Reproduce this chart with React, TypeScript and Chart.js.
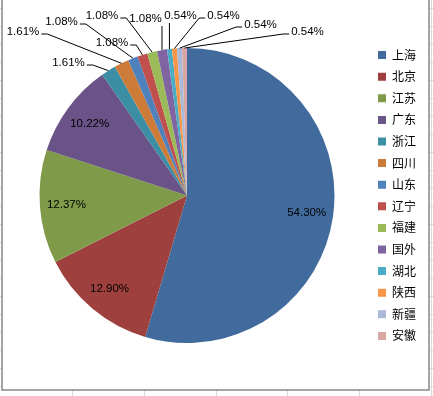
import React, { useEffect, useRef } from 'react';
import { Chart, registerables } from 'chart.js';

Chart.register(...registerables);

// ---- data ----
const categories = ['上海', '北京', '江苏', '广东', '浙江', '四川', '山东', '辽宁', '福建', '国外', '湖北', '陕西', '新疆', '安徽'];
const shares = [54.30, 12.90, 12.37, 10.22, 1.61, 1.61, 1.08, 1.08, 1.08, 1.08, 0.54, 0.54, 0.54, 0.54];

// ---- styles ----
const sliceColors = ['#416B9D', '#9E413E', '#7F9A48', '#6A5387', '#3C8EA5', '#CD7B38', '#4F81BD', '#C0504D', '#9BBB59', '#8064A2', '#4BACC6', '#F79646', '#A9B9D9', '#D9A6A6'];
// label centre offsets from the pie centre (px); null = label inside slice
const labelOffsets: ([number, number] | null)[] = [
  null, null, null, null,
  [-118.5, -132.5], [-164, -163.5], [-125.5, -173.5], [-75, -152.5], [-85, -179.5],
  [-41.5, -176.5], [-6.5, -179.5], [36.5, -179.5], [73.5, -170.5], [120.5, -163.5],
];

const W = 433;
const H = 396;

const framePlugin = {
  id: 'frame',
  beforeDraw(chart: any) {
    const ctx = chart.ctx;
    ctx.save();
    ctx.fillStyle = '#ffffff';
    ctx.fillRect(0, 0, W, H);
    ctx.strokeStyle = '#D9D9D9';
    ctx.lineWidth = 1;
    ctx.beginPath();
    for (let y = 8; y < H; y += 18) {
      ctx.moveTo(0, y + 0.5);
      ctx.lineTo(W, y + 0.5);
    }
    for (let x = 72; x < W + 2; x += 71.8) {
      ctx.moveTo(Math.round(x) + 0.5, 0);
      ctx.lineTo(Math.round(x) + 0.5, H);
    }
    ctx.stroke();
    ctx.fillStyle = '#ffffff';
    ctx.fillRect(2, -2, 427, 392);
    ctx.strokeStyle = '#878787';
    ctx.lineWidth = 1.5;
    ctx.strokeRect(2, -2, 427, 392);
    ctx.restore();
  },
};

const labelPlugin = {
  id: 'sliceLabels',
  afterDatasetsDraw(chart: any) {
    const ctx = chart.ctx;
    const meta = chart.getDatasetMeta(0);
    ctx.save();
    ctx.font = '11.5px "Liberation Sans", Arial, sans-serif';
    ctx.textBaseline = 'middle';
    ctx.textAlign = 'center';
    ctx.fillStyle = '#000000';
    ctx.strokeStyle = '#000000';
    ctx.lineWidth = 1;
    meta.data.forEach((arc: any, i: number) => {
      const p = arc.getProps(['x', 'y', 'startAngle', 'endAngle', 'outerRadius'], true);
      const mid = (p.startAngle + p.endAngle) / 2;
      const text = shares[i].toFixed(2) + '%';
      const off = labelOffsets[i];
      if (!off) {
        const lx = p.x + Math.cos(mid) * p.outerRadius * 0.82;
        const ly = p.y + Math.sin(mid) * p.outerRadius * 0.82;
        ctx.fillText(text, lx, ly);
        return;
      }
      const lx = p.x + off[0];
      const ly = p.y + off[1];
      const w = ctx.measureText(text).width;
      const left = lx - w / 2;
      const right = lx + w / 2;
      const px = p.x + Math.cos(mid) * p.outerRadius;
      const py = p.y + Math.sin(mid) * p.outerRadius;
      ctx.beginPath();
      if (px > right + 2) {
        const sx = right + 2;
        const sy = ly + 2;
        ctx.moveTo(sx, sy);
        ctx.lineTo(sx + 6, sy);
        ctx.lineTo(px, py);
      } else if (px < left - 2) {
        const sx = left - 2;
        const sy = ly + 2;
        ctx.moveTo(sx, sy);
        ctx.lineTo(sx - 6, sy);
        ctx.lineTo(px, py);
      } else {
        ctx.moveTo(px, ly + 7);
        ctx.lineTo(px, py);
      }
      ctx.stroke();
      ctx.fillText(text, lx, ly);
    });
    ctx.restore();
  },
};

export default function App() {
  const ref = useRef<HTMLCanvasElement | null>(null);
  useEffect(() => {
    if (!ref.current) return;
    const chart = new Chart(ref.current, {
      type: 'pie',
      data: {
        labels: categories,
        datasets: [
          {
            data: shares,
            backgroundColor: sliceColors,
            borderWidth: 0,
            radius: 147.5,
          } as any,
        ],
      },
      options: {
        responsive: false,
        animation: false,
        layout: { padding: { left: 5.6, right: 7, top: 0, bottom: 5 } },
        plugins: {
          legend: {
            position: 'right',
            labels: {
              boxWidth: 8,
              boxHeight: 8,
              padding: 9.6,
              color: '#000000',
              font: { size: 12, family: '"Noto Sans CJK SC", sans-serif' },
            },
          },
          tooltip: { enabled: false },
        },
      },
      plugins: [framePlugin, labelPlugin],
    });
    return () => chart.destroy();
  }, []);
  return (
    <div style={{ position: 'fixed', left: 0, top: 0, width: W, height: H }}>
      <canvas ref={ref} width={W} height={H} style={{ display: 'block', width: W, height: H }} />
    </div>
  );
}
